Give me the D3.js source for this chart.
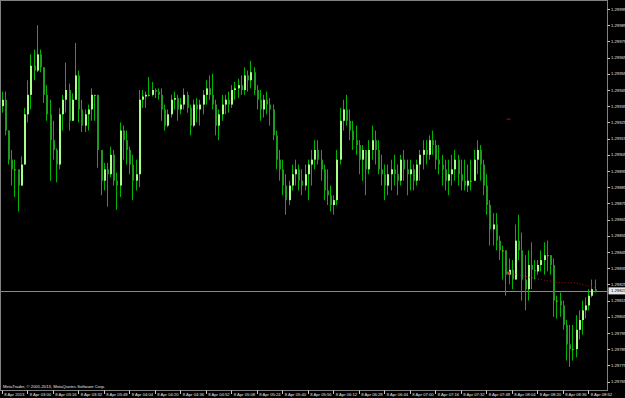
<!DOCTYPE html>
<html>
<head>
<meta charset="utf-8">
<style>
body { margin: 0; background: #000; }
svg { display: block; }
text { font-family: "Liberation Sans", Arial, sans-serif; }
</style>
</head>
<body>
<div id="container"></div>
<script src="https://cdn.jsdelivr.net/npm/d3@7"></script>
<script>
// Bars every 2 minutes from 8 Apr 2013 02:44. Prices in points above 1.29000.
const startTime = new Date(2013, 3, 8, 2, 44);
const barMinutes = 2;
const firstOpen = 935;

const highs = [
  944,944,920,908,902,893,904,934,951,967,
  970,985,970,959,948,939,926,909,934,942,
  962,949,943,974,957,939,933,936,946,942,
  928,908,900,900,910,908,894,925,923,920,
  910,905,902,945,945,944,953,950,946,946,
  946,936,933,942,944,942,940,946,944,936,
  939,940,939,945,951,954,955,939,933,942,
  942,944,948,950,952,954,959,957,963,959,
  948,945,942,944,940,936,920,908,902,893,
  889,899,902,899,896,899,902,908,914,914,
  908,899,896,886,880,908,934,939,942,933,
  926,923,914,911,908,914,923,920,914,905,
  899,899,902,905,899,905,908,902,902,899,
  902,908,914,914,917,920,914,911,905,902,
  902,905,908,905,902,902,899,902,908,914,
  911,902,893,877,869,869,855,849,841,841,
  840,862,868,857,843,846,851,840,840,846,
  851,852,843,841,818,820,815,803,800,800,
  806,809,815,817,822,828,828
];
const lows = [
  931,917,899,886,879,870,889,902,925,933,
  951,956,956,937,926,889,902,888,896,920,
  931,920,930,939,925,919,919,920,926,926,
  897,880,883,873,891,886,871,879,902,899,
  893,877,883,885,934,934,941,941,940,939,
  926,920,922,928,933,926,930,933,931,917,
  922,925,923,930,936,939,933,917,914,926,
  930,931,934,939,940,942,942,944,946,942,
  933,926,928,930,923,914,896,889,880,868,
  874,883,886,883,880,883,877,886,896,899,
  889,877,874,870,868,874,899,920,923,914,
  908,905,893,889,880,893,902,899,893,886,
  877,880,883,886,880,886,889,880,883,883,
  886,889,896,899,902,905,896,893,886,883,
  880,886,889,886,883,883,882,883,889,893,
  889,880,868,849,849,846,840,828,818,825,
  822,828,840,815,809,815,822,828,831,833,
  831,833,831,805,804,805,797,778,774,778,
  780,791,794,804,809,817,820
];
const closes = [
  939,920,902,896,896,886,899,930,942,960,
  957,967,959,942,930,914,908,899,930,939,
  945,926,939,954,933,923,930,933,942,942,
  908,889,896,893,905,889,886,920,914,908,
  899,889,893,939,941,942,942,945,944,942,
  933,923,930,939,940,933,936,942,934,923,
  936,933,936,942,946,942,936,923,930,936,
  939,936,945,946,948,945,954,951,956,945,
  939,933,939,936,933,917,902,896,886,877,
  886,893,896,889,886,893,899,902,908,902,
  896,883,880,874,877,902,926,933,926,920,
  914,911,902,908,896,908,914,908,896,893,
  886,893,896,893,889,902,896,893,896,889,
  899,905,908,905,914,911,902,899,896,889,
  893,896,902,893,889,886,889,889,902,908,
  899,886,874,859,862,852,846,846,831,834,
  828,852,846,828,822,837,834,833,837,840,
  843,843,837,815,815,812,800,788,785,785,
  797,803,809,812,818,822,821
];

// dotted red line (bar index, points) and a short red mark
const redLineBars = [159, 164, 169, 175, 180, 186];
const redLineVals = [832, 830, 828, 826, 826, 823];
const redMarkBar = 159;
const redMarkVal = 927;

const bidPrice = "1.29821";

const yTickLabels = ["1.29995","1.29985","1.29975","1.29965","1.29955","1.29945",
  "1.29935","1.29925","1.29915","1.29905","1.29895","1.29885","1.29875","1.29865",
  "1.29855","1.29845","1.29835","1.29825","1.29815","1.29805","1.29795","1.29785",
  "1.29775","1.29765"];

const xTickTimes = ["02:44","03:00","03:16","03:32","03:48","04:04","04:20","04:36",
  "04:52","05:08","05:24","05:40","05:56","06:12","06:28","06:44","07:00","07:16",
  "07:32","07:48","08:04","08:20","08:36","08:52"];
const xTickLabels = ["8 Apr 2013","8 Apr 03:00","8 Apr 03:16","8 Apr 03:32","8 Apr 03:48",
  "8 Apr 04:04","8 Apr 04:20","8 Apr 04:36","8 Apr 04:52","8 Apr 05:08","8 Apr 05:24",
  "8 Apr 05:40","8 Apr 05:56","8 Apr 06:12","8 Apr 06:28","8 Apr 06:44","8 Apr 07:00",
  "8 Apr 07:16","8 Apr 07:32","8 Apr 07:48","8 Apr 08:04","8 Apr 08:20","8 Apr 08:36",
  "8 Apr 08:52"];

const copyright = "MetaTrader, \u00a9 2001-2013, MetaQuotes Software Corp.";

const width = 625;
const height = 398;
const plotRight = 607.5;
const plotBottom = 390.5;

const toPrice = v => 1.29 + v / 1e5;
const timeAt = i => new Date(startTime.getTime() + i * barMinutes * 60000);
const parseHM = s => {
  const [h, m] = s.split(":").map(Number);
  return new Date(2013, 3, 8, h, m);
};

const bars = highs.map((h, i) => ({
  time: timeAt(i),
  open: toPrice(i === 0 ? firstOpen : closes[i - 1]),
  high: toPrice(h),
  low: toPrice(lows[i]),
  close: toPrice(closes[i])
}));

const x = d3.scaleTime()
  .domain([startTime, new Date(startTime.getTime() + 373 * 60000)])
  .range([1.7, 1.7 + 373 * 1.594]);

const y = d3.scaleLinear()
  .domain([+yTickLabels[yTickLabels.length - 1], +yTickLabels[0]])
  .range([381.6, 9]);

const svg = d3.select("#container").append("svg")
  .attr("width", width)
  .attr("height", height)
  .style("background", "#000");

// frame
svg.append("rect")
  .attr("x", 0.5).attr("y", 0.5)
  .attr("width", plotRight - 0.5).attr("height", plotBottom - 0.5)
  .attr("fill", "none").attr("stroke", "#808080");

const clip = svg.append("g");

// bid line
clip.append("line")
  .attr("x1", 1).attr("x2", plotRight)
  .attr("y1", Math.round(y(+bidPrice)) + 0.5).attr("y2", Math.round(y(+bidPrice)) + 0.5)
  .attr("stroke", "#8a8a8a").attr("stroke-width", 1);

// wicks
clip.append("g").selectAll("line")
  .data(bars)
  .join("line")
  .attr("x1", d => Math.round(x(d.time)) + 0.5)
  .attr("x2", d => Math.round(x(d.time)) + 0.5)
  .attr("y1", d => y(Math.max(d.high, d.open)))
  .attr("y2", d => y(Math.min(d.low, d.open)))
  .attr("stroke", "#00b400")
  .attr("stroke-width", 1);

// bodies
clip.append("g").selectAll("rect")
  .data(bars)
  .join("rect")
  .attr("x", d => Math.round(x(d.time)))
  .attr("width", 2)
  .attr("y", d => y(Math.max(d.open, d.close)))
  .attr("height", d => Math.max(1, Math.abs(y(d.open) - y(d.close))))
  .attr("fill", d => d.close > d.open ? "#a6ff88" : d.close < d.open ? "#1f9a1f" : "#e08a00");

// red dotted line
const redLine = d3.line()
  .x(d => x(timeAt(d[0])))
  .y(d => y(toPrice(d[1])));
clip.append("path")
  .attr("d", redLine(redLineBars.map((b, i) => [b, redLineVals[i]])))
  .attr("fill", "none")
  .attr("stroke", "#b01010")
  .attr("stroke-width", 1)
  .attr("stroke-dasharray", "1,2");
clip.append("rect")
  .attr("x", x(timeAt(redLineBars[0])) - 1.5)
  .attr("y", y(toPrice(redLineVals[0])) - 1.5)
  .attr("width", 3).attr("height", 3)
  .attr("fill", "#c04040");
clip.append("line")
  .attr("x1", x(timeAt(redMarkBar)) - 2).attr("x2", x(timeAt(redMarkBar)) + 2)
  .attr("y1", y(toPrice(redMarkVal))).attr("y2", y(toPrice(redMarkVal)))
  .attr("stroke", "#a01010").attr("stroke-width", 1);

// y axis
const yAxis = svg.append("g");
yAxis.selectAll("line")
  .data(yTickLabels)
  .join("line")
  .attr("x1", plotRight).attr("x2", plotRight + 2.5)
  .attr("y1", d => Math.round(y(+d)) + 0.5)
  .attr("y2", d => Math.round(y(+d)) + 0.5)
  .attr("stroke", "#c8c8c8");
yAxis.selectAll("text")
  .data(yTickLabels)
  .join("text")
  .attr("x", plotRight + 3.5)
  .attr("y", d => y(+d) + 1.5)
  .attr("font-size", 4.2)
  .attr("fill", "#e0e0e0")
  .text(d => d);

// bid label
const by = y(+bidPrice);
svg.append("rect")
  .attr("x", plotRight + 1).attr("y", by - 3.5)
  .attr("width", 17).attr("height", 7)
  .attr("fill", "#e8e8e8");
svg.append("text")
  .attr("x", plotRight + 3.5).attr("y", by + 1.5)
  .attr("font-size", 4.2)
  .attr("fill", "#000")
  .text(bidPrice);

// x axis
const xAxis = svg.append("g");
xAxis.selectAll("line")
  .data(xTickTimes)
  .join("line")
  .attr("x1", d => Math.round(x(parseHM(d))) + 0.5)
  .attr("x2", d => Math.round(x(parseHM(d))) + 0.5)
  .attr("y1", plotBottom).attr("y2", plotBottom + 3.5)
  .attr("stroke", "#c8c8c8");
xAxis.selectAll("text")
  .data(xTickLabels)
  .join("text")
  .attr("x", (d, i) => x(parseHM(xTickTimes[i])) + 2.5)
  .attr("y", plotBottom + 5)
  .attr("font-size", 4.2)
  .attr("fill", "#e0e0e0")
  .text(d => d);

svg.append("text")
  .attr("x", 3).attr("y", 388)
  .attr("font-size", 4.2)
  .attr("fill", "#e0e0e0")
  .text(copyright);
</script>
</body>
</html>
